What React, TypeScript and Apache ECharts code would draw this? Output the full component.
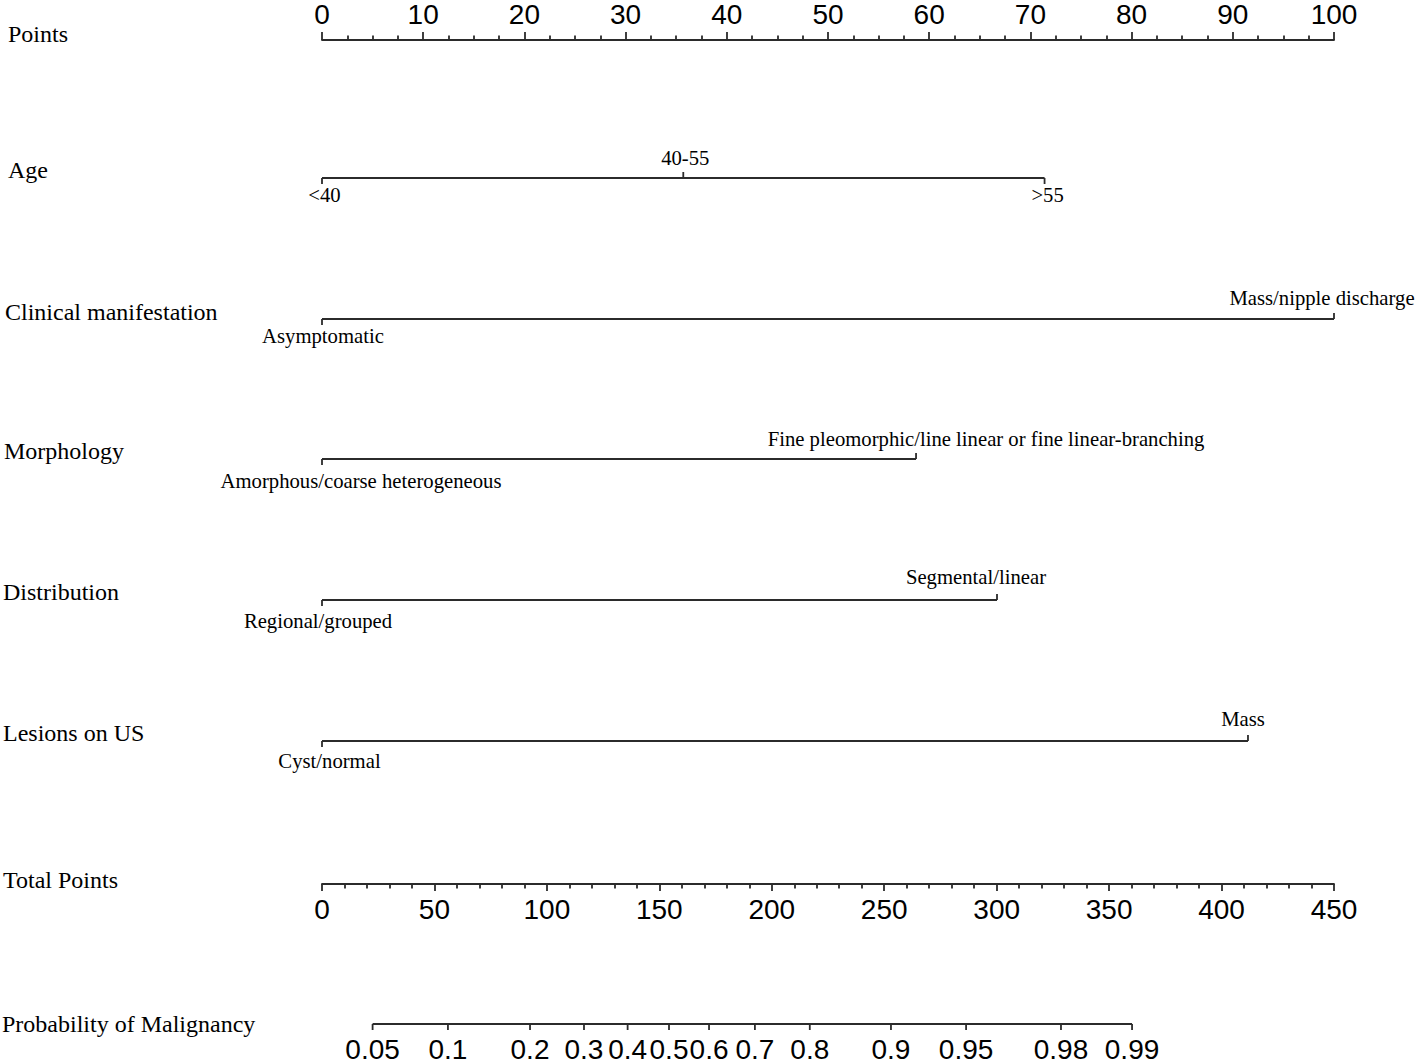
import React, { useEffect, useRef } from "react";
import * as echarts from "echarts";

// ---------- data ----------
const variableNames = ["Age", "Clinical manifestation", "Morphology", "Distribution", "Lesions on US"];
const ageLevels = ["<40", "40-55", ">55"];
const agePoints = [0, 35.7, 71.4];
const clinicalLevels = ["Asymptomatic", "Mass/nipple discharge"];
const clinicalPoints = [0, 100];
const morphologyLevels = ["Amorphous/coarse heterogeneous", "Fine pleomorphic/line linear or fine linear-branching"];
const morphologyPoints = [0, 58.7];
const distributionLevels = ["Regional/grouped", "Segmental/linear"];
const distributionPoints = [0, 66.7];
const lesionLevels = ["Cyst/normal", "Mass"];
const lesionPoints = [0, 91.5];

const probabilityLabels = ["0.05", "0.1", "0.2", "0.3", "0.4", "0.5", "0.6", "0.7", "0.8", "0.9", "0.95", "0.98", "0.99"];
const probabilityTotalPoints = [22.5, 56.0, 92.5, 116.5, 135.9, 154.3, 172.1, 192.5, 216.9, 253.0, 286.4, 328.6, 360.2];

const pointsMax = 100;
const pointsInterval = 10;
const totalPointsMax = 450;
const totalPointsInterval = 50;

// ---------- layout ----------
const SANS = "'Liberation Sans', Arial, sans-serif";
const SERIF = "'Liberation Serif', 'Times New Roman', serif";
const LINE = "#2b2b2b";
const LW = 1.8;
const PLOT_LEFT = 322;
const PLOT_WIDTH = 1012;
const POINTS_Y = 38;
const TOTAL_Y = 884;
const ROW_Y = [178, 319, 459, 600, 741];
const BELOW_DY = [17, 17, 22, 21, 20];
const ABOVE_DY = [-20, -21, -20, -23, -22];
const PROB_Y = 1024;
// horizontal nudges (px) of the level labels relative to their tick
const LABEL_NUDGE = [
  [2.5, 2, 3],
  [1, -12],
  [39, 70],
  [-4, -21],
  [7.5, -5],
];
const TITLES = [
  { text: "Points", x: 8, y: 35 },
  { text: "Age", x: 8, y: 171 },
  { text: "Clinical manifestation", x: 5, y: 313 },
  { text: "Morphology", x: 4, y: 452 },
  { text: "Distribution", x: 3, y: 593 },
  { text: "Lesions on US", x: 3, y: 734 },
  { text: "Total Points", x: 3, y: 881 },
  { text: "Probability of Malignancy", x: 2, y: 1025 },
];

const rows = [
  { levels: ageLevels, points: agePoints },
  { levels: clinicalLevels, points: clinicalPoints },
  { levels: morphologyLevels, points: morphologyPoints },
  { levels: distributionLevels, points: distributionPoints },
  { levels: lesionLevels, points: lesionPoints },
];

export default function App() {
  const ref = useRef<HTMLDivElement>(null);
  useEffect(() => {
    const chart = echarts.init(ref.current!, null, { renderer: "svg" });
    const lineStyle = { color: LINE, width: LW };

    const renderRow = (params: any, api: any) => {
      const i = params.dataIndex;
      const row = rows[i];
      const y = ROW_Y[i];
      const xs = row.points.map((p) => api.coord([p, 0])[0]);
      const children: any[] = [
        {
          type: "line",
          shape: { x1: Math.min(...xs), y1: y, x2: Math.max(...xs), y2: y },
          style: { stroke: LINE, lineWidth: LW },
        },
      ];
      row.levels.forEach((lab, k) => {
        const above = k % 2 === 1;
        const x = xs[k];
        children.push({
          type: "line",
          shape: { x1: x, y1: y, x2: x, y2: above ? y - 6 : y + 6 },
          style: { stroke: LINE, lineWidth: LW },
        });
        children.push({
          type: "text",
          style: {
            text: lab,
            x: x + LABEL_NUDGE[i][k],
            y: above ? y + ABOVE_DY[i] : y + BELOW_DY[i],
            align: "center",
            verticalAlign: "middle",
            fontSize: 20.7,
            fontFamily: SERIF,
            fill: "#000",
          },
        });
      });
      return { type: "group", children };
    };

    const renderProb = (params: any, api: any) => {
      const xs = probabilityTotalPoints.map((p) => api.coord([p, 0])[0]);
      const y = PROB_Y;
      const children: any[] = [
        {
          type: "line",
          shape: { x1: xs[0], y1: y, x2: xs[xs.length - 1], y2: y },
          style: { stroke: LINE, lineWidth: LW },
        },
      ];
      xs.forEach((x, k) => {
        children.push({
          type: "line",
          shape: { x1: x, y1: y, x2: x, y2: y + 6 },
          style: { stroke: LINE, lineWidth: LW },
        });
        children.push({
          type: "text",
          style: {
            text: probabilityLabels[k],
            x,
            y: y + 25,
            align: "center",
            verticalAlign: "middle",
            fontSize: 28,
            fontFamily: SANS,
            fill: "#000",
          },
        });
      });
      return { type: "group", children };
    };

    const option: any = {
      animation: false,
      backgroundColor: "#fff",
      grid: { left: PLOT_LEFT, top: POINTS_Y, width: PLOT_WIDTH, height: TOTAL_Y - POINTS_Y, containLabel: false },
      xAxis: [
        {
          type: "value",
          position: "top",
          min: 0,
          max: pointsMax,
          interval: pointsInterval,
          axisLine: { show: true, onZero: false, lineStyle },
          axisTick: { show: true, length: 8, lineStyle },
          minorTick: { show: true, splitNumber: 4, length: 4.5, lineStyle },
          splitLine: { show: false },
          minorSplitLine: { show: false },
          axisLabel: { fontSize: 28, color: "#000", fontFamily: SANS, margin: 12 },
        },
        {
          type: "value",
          position: "bottom",
          min: 0,
          max: totalPointsMax,
          interval: totalPointsInterval,
          axisLine: { show: true, onZero: false, lineStyle },
          axisTick: { show: true, length: 7, lineStyle },
          minorTick: { show: true, splitNumber: 5, length: 4.5, lineStyle },
          splitLine: { show: false },
          minorSplitLine: { show: false },
          axisLabel: { fontSize: 28, color: "#000", fontFamily: SANS, margin: 11 },
        },
      ],
      yAxis: { type: "value", min: 0, max: 1, show: false },
      series: [
        {
          type: "custom",
          xAxisIndex: 0,
          yAxisIndex: 0,
          clip: false,
          data: rows.map((_, i) => [i, 0]),
          renderItem: renderRow,
          silent: true,
        },
        {
          type: "custom",
          xAxisIndex: 1,
          yAxisIndex: 0,
          clip: false,
          data: [[0, 0]],
          renderItem: renderProb,
          silent: true,
        },
      ],
      graphic: TITLES.map((t) => ({
        type: "text",
        left: t.x,
        top: t.y - 13,
        style: { text: t.text, fontSize: 24, fontFamily: SERIF, fill: "#000" },
        silent: true,
      })),
    };
    chart.setOption(option);
    return () => chart.dispose();
  }, []);
  return (
    <div
      ref={ref}
      style={{ position: "fixed", left: 0, top: 0, width: 1418, height: 1063, background: "#fff" }}
    />
  );
}
